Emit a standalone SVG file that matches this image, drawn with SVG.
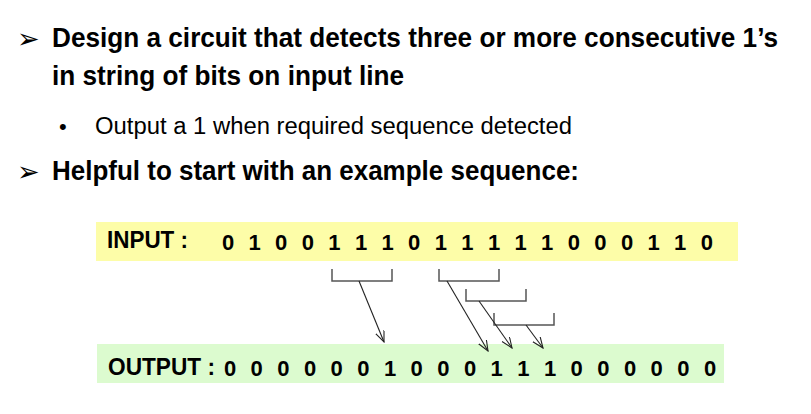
<svg xmlns="http://www.w3.org/2000/svg" width="811" height="414" viewBox="0 0 811 414">
<style>
.h{font-family:"Liberation Sans",Arial,sans-serif;font-weight:bold;fill:#000}
.n{font-family:"Liberation Sans",Arial,sans-serif;fill:#000}
.d{font-family:"Liberation Sans",Arial,sans-serif;font-weight:bold;font-size:22px;text-anchor:middle;fill:#000}
.ar{font-family:"DejaVu Sans",sans-serif;font-size:27px;fill:#000}
.br{fill:none;stroke:#555;stroke-width:1.5}
.cn{fill:none;stroke:#222;stroke-width:1.1}
</style>
<defs>
<marker id="v" markerWidth="12" markerHeight="10" refX="11" refY="4.5" orient="auto" markerUnits="userSpaceOnUse">
<path d="M0,0 L11,4.5 L0,9" fill="none" stroke="#222" stroke-width="1.1"/>
</marker>
</defs>
<rect width="811" height="414" fill="#fff"/>
<g id="text">
<text class="ar" x="17" y="48">➢</text>
<text class="h" x="52" y="47" font-size="27" textLength="726" lengthAdjust="spacingAndGlyphs">Design a circuit that detects three or more consecutive 1’s</text>
<text class="h" x="52" y="85" font-size="27" textLength="352" lengthAdjust="spacingAndGlyphs">in string of bits on input line</text>
<text class="n" x="59" y="134" font-size="22">•</text>
<text class="n" x="95" y="134" font-size="23" textLength="477" lengthAdjust="spacingAndGlyphs">Output a 1 when required sequence detected</text>
<text class="ar" x="17" y="181">➢</text>
<text class="h" x="52" y="180" font-size="27" textLength="527" lengthAdjust="spacingAndGlyphs">Helpful to start with an example sequence:</text>
</g>
<g id="input">
<rect x="96" y="222" width="642" height="39" fill="#FDFDA8"/>
<text class="h" x="107" y="248" font-size="23" textLength="81" lengthAdjust="spacingAndGlyphs">INPUT :</text>
<text class="d" y="250"><tspan x="228">0</tspan><tspan x="254.6">1</tspan><tspan x="281.2">0</tspan><tspan x="307.8">0</tspan><tspan x="334.4">1</tspan><tspan x="361">1</tspan><tspan x="387.6">1</tspan><tspan x="414.2">0</tspan><tspan x="440.8">1</tspan><tspan x="467.4">1</tspan><tspan x="494">1</tspan><tspan x="520.6">1</tspan><tspan x="547.2">1</tspan><tspan x="573.8">0</tspan><tspan x="600.4">0</tspan><tspan x="627">0</tspan><tspan x="653.6">1</tspan><tspan x="680.2">1</tspan><tspan x="706.8">0</tspan></text>
</g>
<g id="output">
<rect x="97" y="344" width="627" height="39" fill="#DCFBCF"/>
<text class="h" x="108" y="375" font-size="23" textLength="107" lengthAdjust="spacingAndGlyphs">OUTPUT :</text>
<text class="d" y="376"><tspan x="230">0</tspan><tspan x="256.7">0</tspan><tspan x="283.3">0</tspan><tspan x="310">0</tspan><tspan x="336.7">0</tspan><tspan x="363.3">0</tspan><tspan x="390">1</tspan><tspan x="416.7">0</tspan><tspan x="443.3">0</tspan><tspan x="470">0</tspan><tspan x="496.7">1</tspan><tspan x="523.3">1</tspan><tspan x="550">1</tspan><tspan x="576.7">0</tspan><tspan x="603.3">0</tspan><tspan x="630">0</tspan><tspan x="656.7">0</tspan><tspan x="683.3">0</tspan><tspan x="710">0</tspan></text>
</g>
<g id="connectors">
<path class="br" d="M332,269 V281 H392 V269"/>
<path class="br" d="M439,269 V281 H499 V269"/>
<path class="br" d="M466,289 V301 H526 V289"/>
<path class="br" d="M494,313 V325 H554 V313"/>
<line class="cn" x1="359" y1="281" x2="384" y2="342" marker-end="url(#v)"/>
<line class="cn" x1="447" y1="281" x2="488" y2="351" marker-end="url(#v)"/>
<line class="cn" x1="479" y1="301" x2="512" y2="348" marker-end="url(#v)"/>
<line class="cn" x1="526" y1="325" x2="543" y2="348" marker-end="url(#v)"/>
</g>
</svg>
